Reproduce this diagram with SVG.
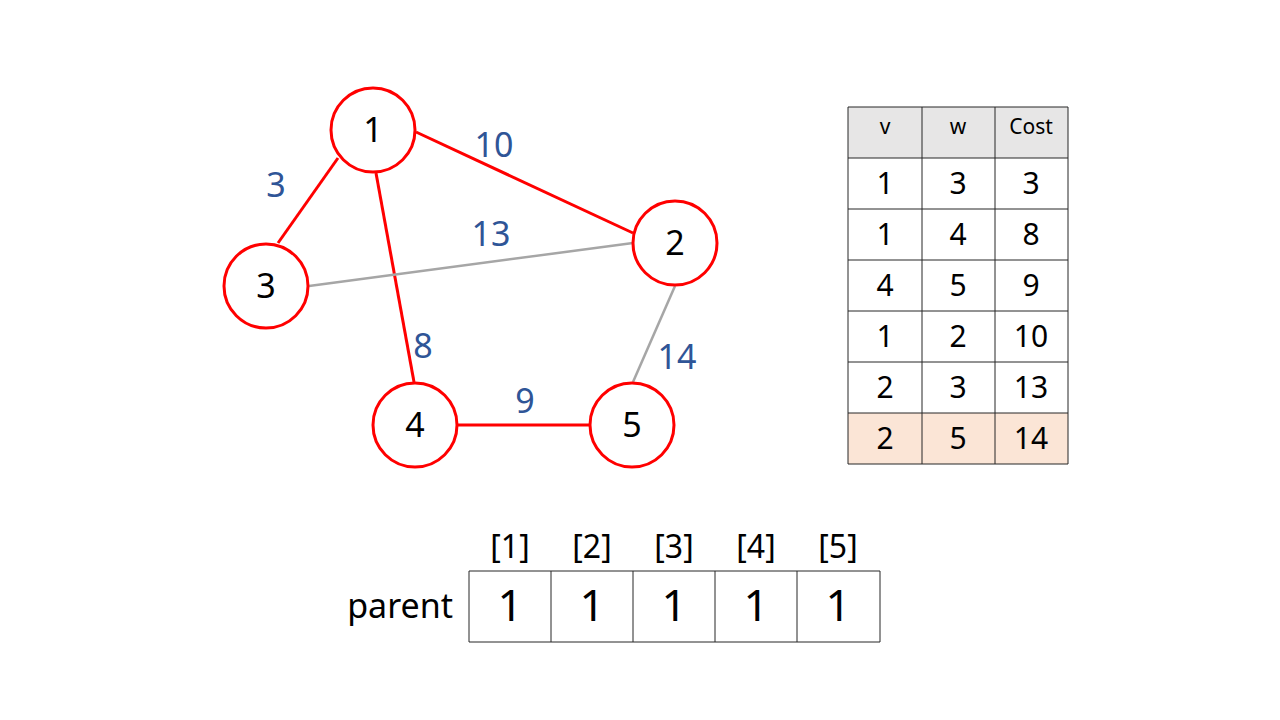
<svg xmlns="http://www.w3.org/2000/svg" width="1280" height="720" viewBox="0 0 1280 720">
<style>
.node{fill:#fff;stroke:#ff0000;stroke-width:3}
.nl{font-family:"Noto Sans","Open Sans",sans-serif;font-size:34px;fill:#000;text-anchor:middle}
.el{font-family:"Noto Sans","Open Sans",sans-serif;font-size:34px;fill:#2f5597;text-anchor:middle}
.red{stroke:#ff0000;stroke-width:3;fill:none}
.grey{stroke:#a6a6a6;stroke-width:2.5;fill:none}
.th{font-family:"Noto Sans","Open Sans",sans-serif;font-size:21px;fill:#000;text-anchor:middle}
.td{font-family:"Noto Sans","Open Sans",sans-serif;font-size:30px;fill:#000;text-anchor:middle}
.grid{stroke:#262626;stroke-width:1;fill:none}
.idx{font-family:"Noto Sans","Open Sans",sans-serif;font-size:32px;fill:#000;text-anchor:middle}
.pv{font-family:"Noto Sans","Open Sans",sans-serif;font-size:44px;fill:#000;text-anchor:middle}
</style>
<rect width="1280" height="720" fill="#fff"/>
<g id="connectors">
<line class="red" x1="416" y1="132" x2="633" y2="233"/>
<line class="red" x1="338" y1="158" x2="278" y2="243"/>
<line class="red" x1="376" y1="173" x2="414" y2="382"/>
<line class="grey" x1="309" y1="286" x2="633" y2="243"/>
<line class="grey" x1="675" y1="286" x2="633" y2="382"/>
<line class="red" x1="458" y1="425" x2="589" y2="425"/>
<text class="el" x="494" y="157">10</text>
<text class="el" x="276" y="197">3</text>
<text class="el" x="491" y="246">13</text>
<text class="el" x="423" y="358">8</text>
<text class="el" x="677" y="369">14</text>
<text class="el" x="525" y="413">9</text>
</g>
<g id="node1"><circle class="node" cx="373" cy="130" r="42"/><text class="nl" x="373" y="142">1</text></g>
<g id="node2"><circle class="node" cx="675" cy="243" r="42"/><text class="nl" x="675" y="255">2</text></g>
<g id="node3"><circle class="node" cx="266" cy="286" r="42"/><text class="nl" x="266" y="298">3</text></g>
<g id="node4"><circle class="node" cx="415" cy="425" r="42"/><text class="nl" x="415" y="437">4</text></g>
<g id="node5"><circle class="node" cx="632" cy="425" r="42"/><text class="nl" x="632" y="437">5</text></g>
<g id="edge-table">
<rect x="848" y="107" width="220" height="51" fill="#e7e6e6"/>
<rect x="848" y="413" width="220" height="51" fill="#fbe5d6"/>
<path class="grid" d="M848 107H1068M848 158H1068M848 209H1068M848 260H1068M848 311H1068M848 362H1068M848 413H1068M848 464H1068M848 107V464M922 107V464M995 107V464M1068 107V464"/>
<text class="th" x="885" y="134">v</text><text class="th" x="958" y="134">w</text><text class="th" x="1031" y="134">Cost</text>
<text class="td" x="885" y="194">1</text><text class="td" x="958" y="194">3</text><text class="td" x="1031" y="194">3</text>
<text class="td" x="885" y="245">1</text><text class="td" x="958" y="245">4</text><text class="td" x="1031" y="245">8</text>
<text class="td" x="885" y="296">4</text><text class="td" x="958" y="296">5</text><text class="td" x="1031" y="296">9</text>
<text class="td" x="885" y="347">1</text><text class="td" x="958" y="347">2</text><text class="td" x="1031" y="347">10</text>
<text class="td" x="885" y="398">2</text><text class="td" x="958" y="398">3</text><text class="td" x="1031" y="398">13</text>
<text class="td" x="885" y="449">2</text><text class="td" x="958" y="449">5</text><text class="td" x="1031" y="449">14</text>
</g>
<g id="parent-array">
<text class="idx" x="510" y="558">[1]</text><text class="idx" x="592" y="558">[2]</text><text class="idx" x="674" y="558">[3]</text><text class="idx" x="756" y="558">[4]</text><text class="idx" x="838" y="558">[5]</text>
<text x="453" y="618" font-family="Noto Sans, Open Sans, sans-serif" font-size="34" text-anchor="end">parent</text>
<path class="grid" d="M469 571H880M469 642H880M469 571V642M551 571V642M633 571V642M715 571V642M797 571V642M880 571V642"/>
<text class="pv" x="510" y="621">1</text><text class="pv" x="592" y="621">1</text><text class="pv" x="674" y="621">1</text><text class="pv" x="756" y="621">1</text><text class="pv" x="838" y="621">1</text>
</g>
</svg>
